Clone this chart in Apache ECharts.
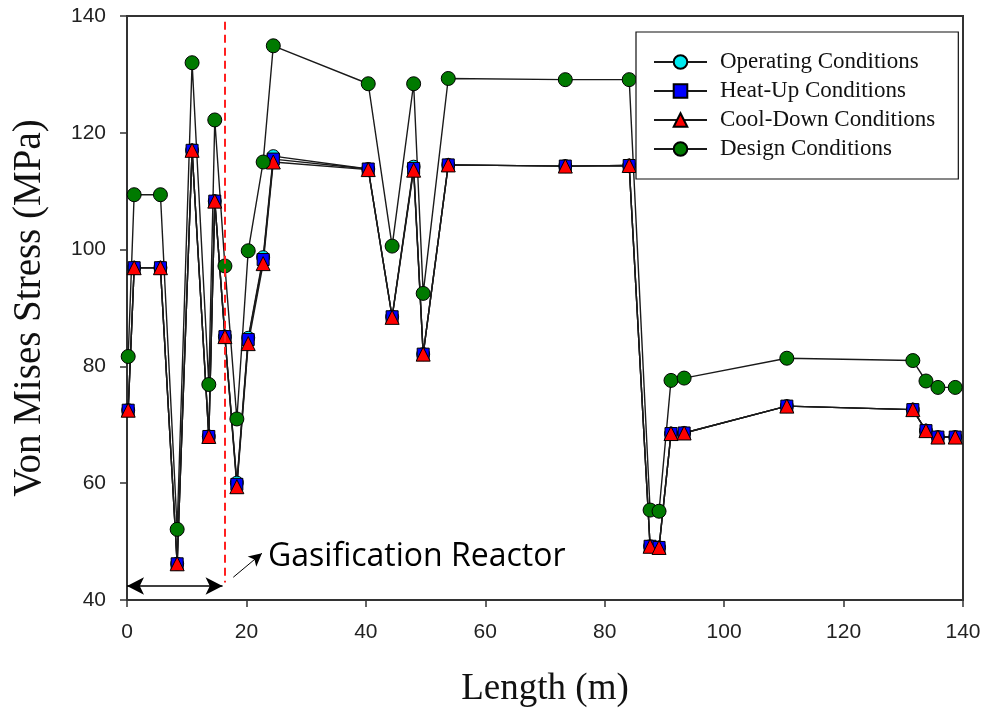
<!DOCTYPE html>
<html>
<head>
<meta charset="utf-8">
<script src="https://cdn.jsdelivr.net/npm/echarts@6/dist/echarts.min.js"></script>
<style>
  html, body { margin: 0; background: #fff; }
  #chart { width: 989px; height: 713px; }
</style>
</head>
<body>
<div id="chart"></div>
<script>
// positions along the line (m)
const lengthM = [0.2, 1.2, 5.6, 8.4, 10.9, 13.7, 14.7, 16.4, 18.4, 20.3, 22.8, 24.5, 40.4, 44.4,
  48.0, 49.6, 53.8, 73.4, 84.1, 87.6, 89.1, 91.1, 93.3, 110.5, 131.6, 133.8, 135.8, 138.7];

// von mises stress (MPa)
const operating = [72.5, 96.9, 96.9, 46.2, 117.0, 68.0, 108.3, 85.1, 60.1, 84.9, 98.7, 116.0, 113.8, 88.5,
  114.2, 82.1, 114.5, 114.3, 114.4, 49.2, 49.0, 68.5, 68.6, 73.2, 72.6, 69.0, 67.9, 67.9];
const heatUp = [72.5, 96.9, 96.9, 46.2, 117.0, 68.0, 108.3, 85.1, 59.8, 84.6, 98.3, 115.5, 113.8, 88.5,
  113.9, 82.1, 114.5, 114.3, 114.4, 49.2, 49.0, 68.5, 68.6, 73.2, 72.6, 69.0, 67.9, 67.9];
const coolDown = [72.5, 96.9, 96.9, 46.2, 117.0, 68.0, 108.3, 85.1, 59.4, 83.9, 97.6, 115.0, 113.7, 88.4,
  113.6, 82.1, 114.5, 114.3, 114.4, 49.2, 49.0, 68.5, 68.6, 73.2, 72.6, 69.0, 67.9, 67.9];
const design = [81.7, 109.4, 109.4, 52.1, 132.0, 76.9, 122.2, 97.2, 71.0, 99.8, 115.0, 134.9, 128.4, 100.6,
  128.4, 92.5, 129.3, 129.1, 129.1, 55.4, 55.2, 77.6, 78.0, 81.4, 81.0, 77.5, 76.4, 76.4];

// annotation: reactor boundary and span arrows, in data coords
const reactorEdge = [[16.4, 139], [16.4, 43]];
const reactorSpan = [[0, 42.4], [16.0, 42.4]];
const pointerArrow = [[17.8, 43.9], [22.6, 48.0]];

const serif = 'Liberation Serif';

const mkSeries = (name, values, symbol, size, color) => ({
  name,
  type: 'line',
  data: lengthM.map((x, i) => [x, values[i]]),
  symbol,
  symbolSize: size,
  itemStyle: { color, borderColor: '#000', borderWidth: 1 },
  lineStyle: { color: '#1a1a1a', width: 1.4 },
  emphasis: { disabled: true }
});

const chart = echarts.init(document.getElementById('chart'));

const designSeries = mkSeries('Design Conditions', design, 'circle', 14, '#007a00');
designSeries.markLine = {
  silent: true,
  animation: false,
  label: { show: false },
  data: [
    [
      { coord: reactorEdge[0], symbol: 'none', lineStyle: { color: '#ff2020', width: 2, type: [8, 5] } },
      { coord: reactorEdge[1], symbol: 'none' }
    ],
    [
      { coord: reactorSpan[0], symbol: 'arrow', symbolSize: [13, 17], lineStyle: { color: '#000', width: 1.6, type: 'solid' }, itemStyle: { color: '#000' } },
      { coord: reactorSpan[1], symbol: 'arrow', symbolSize: [13, 17] }
    ],
    [
      { coord: pointerArrow[0], symbol: 'none', lineStyle: { color: '#000', width: 1, type: 'solid' }, itemStyle: { color: '#000' } },
      { coord: pointerArrow[1], symbol: 'arrow', symbolSize: [10, 13] }
    ]
  ]
};

chart.setOption({
  animation: false,
  backgroundColor: '#fff',
  grid: {
    left: 127, right: 26, top: 16, bottom: 112,
    show: true, borderColor: '#333', borderWidth: 2
  },
  legend: {
    orient: 'vertical',
    left: 636,
    top: 32,
    padding: [18, 23, 18, 17],
    itemWidth: 53,
    itemHeight: 17,
    itemGap: 5,
    backgroundColor: '#fff',
    borderColor: '#111',
    borderWidth: 1.2,
    borderRadius: 0,
    textStyle: { fontFamily: serif, fontSize: 23, color: '#111', lineHeight: 24, padding: [0, 0, 0, 8] },
    data: ['Operating Conditions', 'Heat-Up Conditions', 'Cool-Down Conditions', 'Design Conditions']
  },
  xAxis: {
    type: 'value',
    min: 0, max: 140, interval: 20,
    name: 'Length (m)',
    nameLocation: 'middle',
    nameGap: 71,
    nameTextStyle: { fontFamily: serif, fontSize: 37, color: '#111' },
    axisLine: { lineStyle: { color: '#333', width: 2 } },
    axisTick: { inside: false, length: 7, lineStyle: { color: '#333', width: 1.5 } },
    axisLabel: { fontFamily: 'Liberation Sans', fontSize: 21, color: '#222', margin: 22 },
    splitLine: { show: false }
  },
  yAxis: {
    type: 'value',
    min: 40, max: 140, interval: 20,
    name: 'Von Mises Stress (MPa)',
    nameLocation: 'middle',
    nameGap: 78,
    nameTextStyle: { fontFamily: serif, fontSize: 39, color: '#111' },
    axisLine: { lineStyle: { color: '#333', width: 2 } },
    axisTick: { inside: false, length: 7, lineStyle: { color: '#333', width: 1.5 } },
    axisLabel: { fontFamily: 'Liberation Sans', fontSize: 21, color: '#222', margin: 21 },
    splitLine: { show: false }
  },
  graphic: [{
    type: 'text',
    x: 268,
    y: 557,
    silent: true,
    style: {
      text: 'Gasification Reactor',
      fontFamily: 'Open Sans',
      fontSize: 32,
      fill: '#000',
      verticalAlign: 'middle'
    }
  }],
  series: [
    mkSeries('Operating Conditions', operating, 'circle', 13, '#00eaf0'),
    mkSeries('Heat-Up Conditions', heatUp, 'rect', 12, '#0000ff'),
    mkSeries('Cool-Down Conditions', coolDown, 'triangle', 14, '#ff0000'),
    designSeries
  ]
});
</script>
</body>
</html>
